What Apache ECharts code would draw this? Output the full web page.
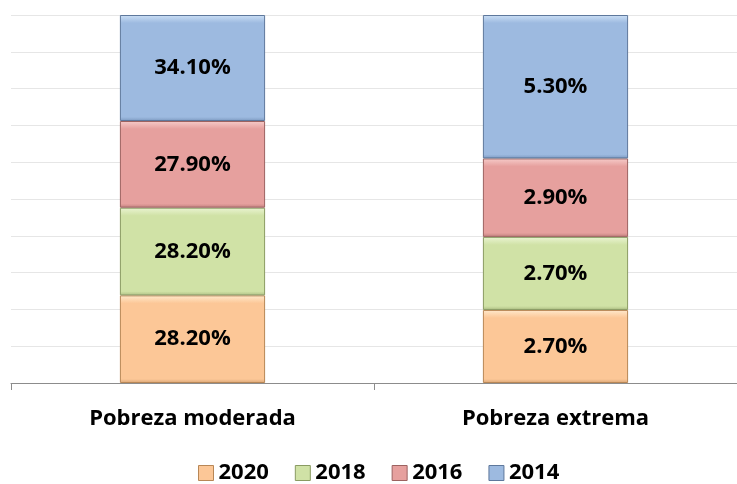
<!DOCTYPE html>
<html><head><meta charset="utf-8">
<script src="https://cdn.jsdelivr.net/npm/echarts@6/dist/echarts.min.js"></script>
<style>html,body{margin:0;padding:0;background:#fff}#c{width:737px;height:484px}</style>
</head><body><div id="c"></div>
<script>
var categories = ['Pobreza moderada', 'Pobreza extrema'];
var years = ['2020', '2018', '2016', '2014'];
var v2020 = [28.2, 2.7];
var v2018 = [28.2, 2.7];
var v2016 = [27.9, 2.9];
var v2014 = [34.1, 5.3];
var yTicks = [0, 10, 20, 30, 40, 50, 60, 70, 80, 90, 100];

var seriesValues = [v2020, v2018, v2016, v2014];
var baseColors = ['#FCC797', '#D0E2A6', '#E6A09E', '#9DBAE0'];
var lightColors = ['#FFE9CC', '#EAF4D2', '#F6CCCA', '#CCE0F6'];
var darkColors = ['#D9A676', '#AFC185', '#C2807E', '#7E9BC2'];
var borderColors = ['#B88756', '#8A9B62', '#9C6260', '#5E789C'];

var totals = categories.map(function (c, i) {
  return seriesValues.reduce(function (s, arr) { return s + arr[i]; }, 0);
});
var plotH = 368;

function grad(k, share) {
  var h = share / 100 * plotH;
  var f = Math.min(0.3, 8 / h);
  var g = Math.min(0.2, 4 / h);
  return {
    type: 'linear', x: 0, y: 0, x2: 0, y2: 1,
    colorStops: [
      { offset: 0, color: lightColors[k] },
      { offset: f, color: baseColors[k] },
      { offset: 1 - g, color: baseColors[k] },
      { offset: 1, color: darkColors[k] }
    ]
  };
}

var series = years.map(function (y, k) {
  return {
    name: y,
    type: 'bar',
    stack: 'total',
    barWidth: '40%',
    itemStyle: { color: baseColors[k], borderColor: borderColors[k], borderWidth: 1 },
    label: {
      show: true, position: 'inside', color: '#000',
      fontFamily: 'Open Sans', fontWeight: 'bold', fontSize: 22,
      formatter: function (p) { return seriesValues[k][p.dataIndex].toFixed(2) + '%'; }
    },
    data: seriesValues[k].map(function (v, i) {
      var share = v / totals[i] * 100;
      return { value: share, itemStyle: { color: grad(k, share) } };
    })
  };
});

var chart = echarts.init(document.getElementById('c'), null, { renderer: 'canvas' });
chart.setOption({
  animation: false,
  grid: { left: 11, right: -3, top: 15, bottom: 101, containLabel: false },
  legend: {
    data: years.map(function (y, k) {
      return { name: y, itemStyle: { color: baseColors[k], borderColor: borderColors[k], borderWidth: 1 } };
    }),
    bottom: -5, left: 193,
    icon: 'rect', itemWidth: 15, itemHeight: 15, itemGap: 26,
    textStyle: { fontFamily: 'Open Sans', fontWeight: 'bold', fontSize: 22, color: '#000' }
  },
  xAxis: {
    type: 'category', data: categories,
    axisLine: { lineStyle: { color: '#8C8C8C', width: 1 } },
    axisTick: { show: true, length: 7, lineStyle: { color: '#8C8C8C' } },
    axisLabel: { margin: 25, color: '#000', fontFamily: 'Open Sans', fontWeight: 'bold', fontSize: 22 }
  },
  yAxis: {
    type: 'value', min: yTicks[0], max: yTicks[yTicks.length - 1], interval: yTicks[1] - yTicks[0],
    axisLabel: { show: false }, axisLine: { show: false }, axisTick: { show: false },
    splitLine: { lineStyle: { color: '#E6E6E6', width: 1 } }
  },
  series: series
});
</script></body></html>
